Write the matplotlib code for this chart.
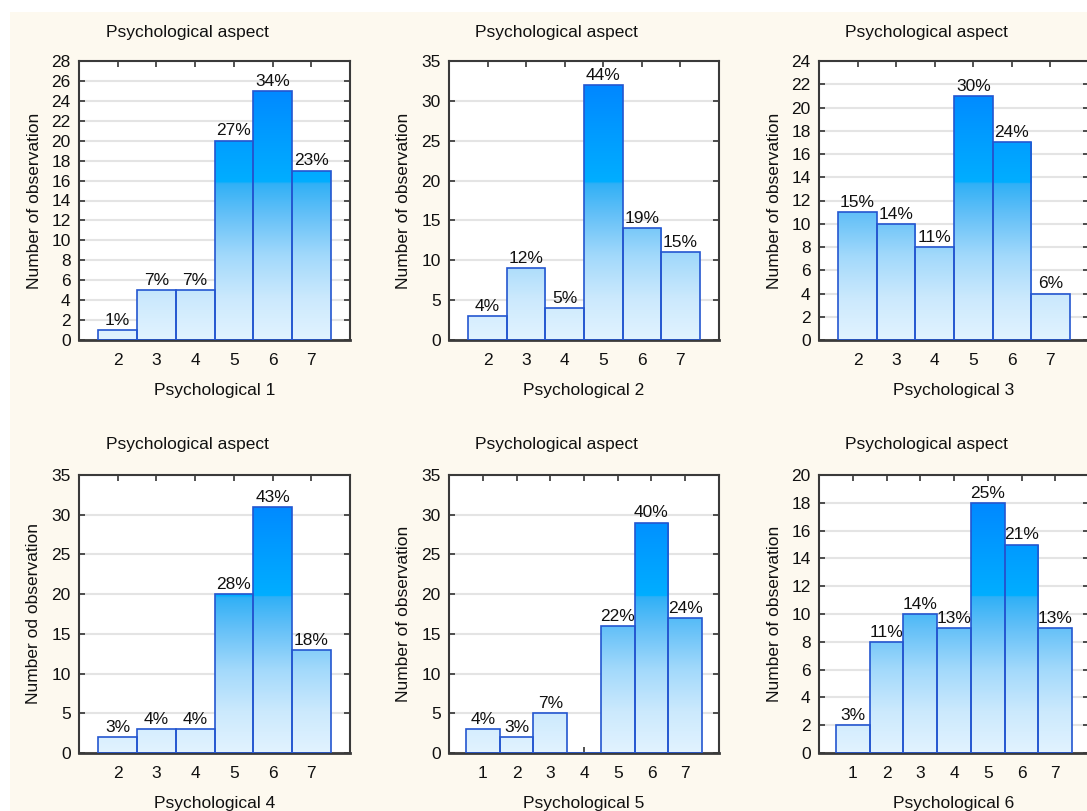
import numpy as np
import matplotlib
matplotlib.use("Agg")
import matplotlib.pyplot as plt
from matplotlib.colors import LinearSegmentedColormap
from matplotlib.patches import Rectangle

plt.rcParams['font.family'] = ['Liberation Sans', 'DejaVu Sans']

# observation counts per answer value
x_12346 = [2, 3, 4, 5, 6, 7]
x_56 = [1, 2, 3, 4, 5, 6, 7]

psych1 = [1, 5, 5, 20, 25, 17]
psych2 = [3, 9, 4, 32, 14, 11]
psych3 = [11, 10, 8, 21, 17, 4]
psych4 = [2, 3, 3, 20, 31, 13]
psych5 = [3, 2, 5, 0, 16, 29, 17]
psych6 = [2, 8, 10, 9, 18, 15, 9]

xlabels = ["Psychological 1", "Psychological 2", "Psychological 3",
           "Psychological 4", "Psychological 5", "Psychological 6"]
ylabels = ["Number of observation", "Number of observation", "Number of observation",
           "Number od observation", "Number of observation", "Number of observation"]
ymax = [28, 35, 24, 35, 35, 20]
ystep = [2, 5, 2, 5, 5, 2]
xmin = [1, 1, 1, 1, 0, 0]

panels = [(x_12346, psych1), (x_12346, psych2), (x_12346, psych3),
          (x_12346, psych4), (x_56, psych5), (x_56, psych6)]

FS = 12.5
W, H = 1087, 811
fig = plt.figure(figsize=(W / 100, H / 100), dpi=100, facecolor="white")
fig.patches.append(Rectangle((10 / W, 0), 1, 1 - 12 / H, transform=fig.transFigure,
                             facecolor="#fdf9ef", edgecolor="none", zorder=-10))

grad = LinearSegmentedColormap.from_list("bars", [
    (0.0, "#e2f3ff"), (0.15, "#cbe9fd"), (0.30, "#a2d9fb"), (0.45, "#63c0f8"),
    (0.56, "#30b0f6"), (0.565, "#00aeff"), (0.75, "#009aff"), (0.92, "#0086ff"),
    (1.0, "#0080ff")])
gradient = np.linspace(0, 1, 256).reshape(-1, 1)

lefts = [79, 449, 819]
rights = [350, 719, 1089]
tops = [61, 475]
bottoms = [340, 753]
title_x = [187, 556, 926]
title_y = [32, 445]

for i, (xs, counts) in enumerate(panels):
    r, c = divmod(i, 3)
    l, rt, t, b = lefts[c], rights[c], tops[r], bottoms[r]
    ax = fig.add_axes([l / W, 1 - b / H, (rt - l) / W, (b - t) / H])
    ax.set_axisbelow(True)
    ax.grid(axis="y", color="#e4e4e4", lw=1.5, zorder=0)

    total = sum(counts)
    bars = ax.bar(xs, counts, width=1.0, facecolor="none", edgecolor="#2456d0",
                  lw=1.2, zorder=3)
    for bar, n in zip(bars, counts):
        if n == 0:
            continue
        x0 = bar.get_x()
        im = ax.imshow(gradient, cmap=grad, aspect="auto", origin="lower",
                       extent=[x0, x0 + 1, 0, ymax[i]], zorder=2)
        im.set_clip_path(bar)
        ax.text(x0 + 0.5, n + ymax[i] * 0.008, f"{round(100 * n / total)}%",
                ha="center", va="bottom", fontsize=FS, color="#111111", zorder=4)
    ax.set_xlim(xmin[i], 8)
    ax.set_ylim(0, ymax[i])

    ax.set_xticks(xs)
    ax.set_yticks(np.arange(0, ymax[i] + 1, ystep[i]))
    ax.tick_params(direction="in", length=4, width=1.2, top=True, right=True,
                   labelsize=FS, color="#333333", labelcolor="#111111")
    ax.tick_params(axis="x", pad=9)
    ax.tick_params(axis="y", pad=6)
    for s in ax.spines.values():
        s.set_color("#3a3a3a")
        s.set_linewidth(1.5)
    ax.spines["bottom"].set_linewidth(2)

    ax.set_xlabel(xlabels[i], fontsize=FS, labelpad=11, color="#111111")
    ax.set_ylabel(ylabels[i], fontsize=FS, labelpad=7, color="#111111")
    fig.text(title_x[c] / W, 1 - title_y[r] / H, "Psychological aspect",
             ha="center", va="center", fontsize=FS, color="#111111")

fig.savefig("out.png", dpi=100, facecolor=fig.get_facecolor())
